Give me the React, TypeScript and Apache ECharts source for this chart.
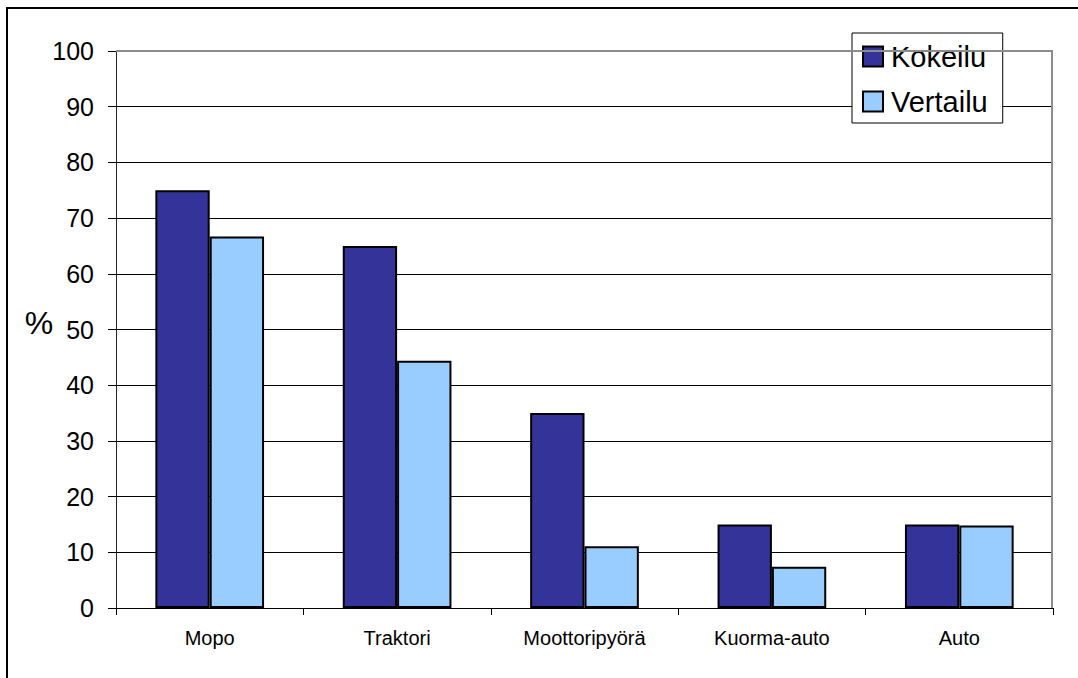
import React, { useEffect, useRef } from "react";
import * as echarts from "echarts";

const categories = ["Mopo", "Traktori", "Moottoripyörä", "Kuorma-auto", "Auto"];
const kokeilu = [75, 65, 35, 15, 15];
const vertailu = [66.7, 44.4, 11.1, 7.4, 14.8];
const seriesNames = ["Kokeilu", "Vertailu"];
const yTicks = { min: 0, max: 100, interval: 10 };

const FONT = "'Liberation Sans', Arial, sans-serif";

export default function App() {
  const ref = useRef<HTMLDivElement>(null);

  useEffect(() => {
    if (!ref.current) return;
    const chart = echarts.init(ref.current, null, { renderer: "svg" });
    chart.setOption({
      animation: false,
      backgroundColor: "#ffffff",
      textStyle: { fontFamily: FONT, color: "#000" },
      grid: { left: 116, right: 25, top: 51, bottom: 70, containLabel: false },
      legend: {
        orient: "vertical",
        left: 852,
        top: 33,
        padding: [9, 15, 7, 10],
        itemGap: 16,
        itemWidth: 20,
        itemHeight: 20,
        backgroundColor: "#ffffff",
        borderColor: "#000",
        borderWidth: 1,
        borderRadius: 0,
        textStyle: { fontSize: 29, fontFamily: FONT, color: "#000", padding: [0, 0, 0, 3] },
        itemStyle: { borderColor: "#000", borderWidth: 2 },
        icon: "rect",
        data: seriesNames,
      },
      xAxis: {
        type: "category",
        data: categories,
        boundaryGap: true,
        axisLine: { show: true, lineStyle: { color: "#000", width: 1 } },
        axisTick: { show: true, length: 7, alignWithLabel: false, lineStyle: { color: "#000" } },
        axisLabel: { fontSize: 20, color: "#000", fontFamily: FONT, margin: 20 },
        splitLine: { show: false },
      },
      yAxis: {
        type: "value",
        min: yTicks.min,
        max: yTicks.max,
        interval: yTicks.interval,
        axisLine: { show: true, lineStyle: { color: "#222", width: 1 } },
        axisTick: { show: true, length: 8, inside: false, lineStyle: { color: "#000" } },
        axisLabel: { fontSize: 25, color: "#000", fontFamily: FONT, margin: 22 },
        splitLine: { show: true, showMinLine: false, showMaxLine: false, lineStyle: { color: "#000", width: 1 } },
      },
      graphic: [
        {
          type: "rect",
          shape: { x: 7, y: 8, width: 1200, height: 1000 },
          style: { fill: "none", stroke: "#000", lineWidth: 2 },
          silent: true,
          z: 0,
        },
        {
          type: "polyline",
          shape: { points: [[116, 51], [1052, 51], [1052, 608]] },
          style: { fill: "none", stroke: "#8c8c8c", lineWidth: 2 },
          silent: true,
          z: 5,
        },
        {
          type: "text",
          x: 39,
          y: 323,
          style: {
            text: "%",
            font: `32px ${FONT}`,
            fill: "#000",
            align: "center",
            verticalAlign: "middle",
          },
        },
      ],
      series: [
        {
          name: seriesNames[0],
          type: "bar",
          data: kokeilu,
          barGap: "0%",
          barCategoryGap: "42%",
          itemStyle: { color: "#333399", borderColor: "#000", borderWidth: 2 },
        },
        {
          name: seriesNames[1],
          type: "bar",
          data: vertailu,
          barGap: "0%",
          barCategoryGap: "42%",
          itemStyle: { color: "#99ccff", borderColor: "#000", borderWidth: 2 },
        },
      ],
    });
    return () => chart.dispose();
  }, []);

  return (
    <div
      ref={ref}
      style={{ position: "fixed", left: 0, top: 0, width: 1078, height: 678 }}
    />
  );
}
